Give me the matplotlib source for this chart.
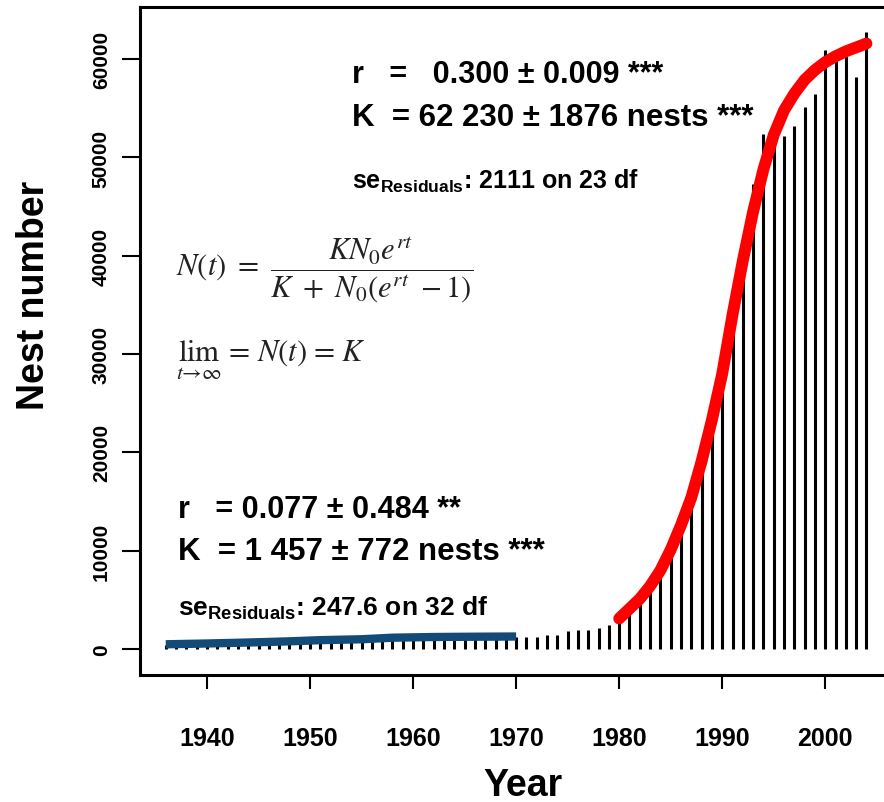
import matplotlib
matplotlib.use("Agg")
import matplotlib.pyplot as plt
import numpy as np

# annual nest counts
years = list(range(1936, 2005))
nests = [450, 470, 490, 510, 530, 560, 590, 620, 650, 680,
         710, 740, 780, 820, 860, 900, 930, 960, 990, 1020,
         1060, 1100, 1120, 1150, 1170, 1190, 1200, 1210, 1220, 1230,
         1240, 1240, 1250, 1250, 1260,
         1250, 1250, 1430, 1430, 1800, 1970, 1970, 2110, 2450, 2890,
         3570, 4930, 5950, 7760, 9860, 12240, 16330, 18880, 24390, 29200,
         33800, 38800, 47300, 52400, 53400, 52200, 53200, 55100, 56500, 60900,
         60700, 61100, 58200, 62800]

# early logistic fit (blue)
fit1_years = [1936, 1940, 1944, 1948, 1951, 1955, 1958, 1962, 1966, 1970]
fit1_vals = [480, 560, 660, 780, 900, 990, 1150, 1220, 1250, 1270]

# late logistic fit (red)
fit2_years = list(range(1980, 2005))
fit2_vals = [3100, 4100, 5100, 6400, 8000, 10100, 12600, 15400, 19100, 23300,
             28000, 34000, 39500, 44500, 48800, 52300, 54800, 56500, 57900, 58900,
             59700, 60300, 60800, 61200, 61600]

xticks = [1940, 1950, 1960, 1970, 1980, 1990, 2000]
yticks = [0, 10000, 20000, 30000, 40000, 50000, 60000]

plt.rcParams['font.family'] = ['Liberation Sans', 'DejaVu Sans']
plt.rcParams['mathtext.fontset'] = 'custom'
plt.rcParams['mathtext.rm'] = 'Liberation Sans:bold'
plt.rcParams['mathtext.it'] = 'Liberation Sans:bold:italic'
plt.rcParams['mathtext.bf'] = 'Liberation Sans:bold'

W, H = 884, 803
fig = plt.figure(figsize=(W / 100, H / 100), dpi=100)
ax = fig.add_axes([140 / W, (H - 676) / H, 744 / W, (676 - 8) / H])

ax.vlines(years, 0, nests, color='black', linewidth=2.2, zorder=2)
ax.plot(fit1_years, fit1_vals, color='#124a78', linewidth=6, solid_capstyle='butt', zorder=3)
ax.plot(fit2_years, fit2_vals, color='#ff0000', linewidth=8.5, solid_capstyle='round', zorder=4)

ax.set_xlim(1933.5, 2005.7)
ax.set_ylim(-2645, 65310)
ax.set_xticks(xticks)
ax.set_yticks(yticks)
ax.set_xticklabels([str(v) for v in xticks], fontsize=18, fontweight='bold')
ax.set_yticklabels([str(v) for v in yticks], fontsize=15, fontweight='bold',
                   rotation=90, va='center')
ax.tick_params(axis='x', direction='out', length=10, width=1.5, pad=27)
ax.tick_params(axis='y', direction='out', length=13, width=1.5, pad=8)
for side in ['left', 'bottom', 'top']:
    ax.spines[side].set_linewidth(2.2)
ax.spines['right'].set_visible(False)

fig.text(34 / W, 1 - 295 / H, 'Nest number', rotation=90, fontsize=27,
         fontweight='bold', ha='center', va='center')
fig.text(523 / W, 1 - 786 / H, 'Year', fontsize=27, fontweight='bold',
         ha='center', va='center')

def ftext(x, y, s, **kw):
    fig.text(x / W, 1 - y / H, s, ha='left', va='center', **kw)

ftext(352, 75, 'r   =   0.300 \u00b1 0.009 ***', fontsize=22, fontweight='bold')
ftext(352, 118, 'K  = 62 230 \u00b1 1876 nests ***', fontsize=22.5, fontweight='bold')
ftext(352, 181, r'se$_{\mathrm{Residuals}}$: 2111 on 23 df', fontsize=18, fontweight='bold')

ftext(176, 270, r'$N(t)\ =\ \dfrac{KN_0e^{rt}}{K\ +\ N_0(e^{rt}\ -1)}$', fontsize=22,
      math_fontfamily='stix', color='#222222')
ftext(176, 360, r'$\lim_{t\rightarrow\infty}\ =\ N(t)\ =\ K$', fontsize=22,
      math_fontfamily='stix', color='#222222')

ftext(178, 510, 'r   = 0.077 \u00b1 0.484 **', fontsize=22, fontweight='bold')
ftext(178, 552, 'K  = 1 457 \u00b1 772 nests ***', fontsize=22.5, fontweight='bold')
ftext(178, 608, r'se$_{\mathrm{Residuals}}$: 247.6 on 32 df', fontsize=19, fontweight='bold')

fig.savefig('out.png', dpi=100)
